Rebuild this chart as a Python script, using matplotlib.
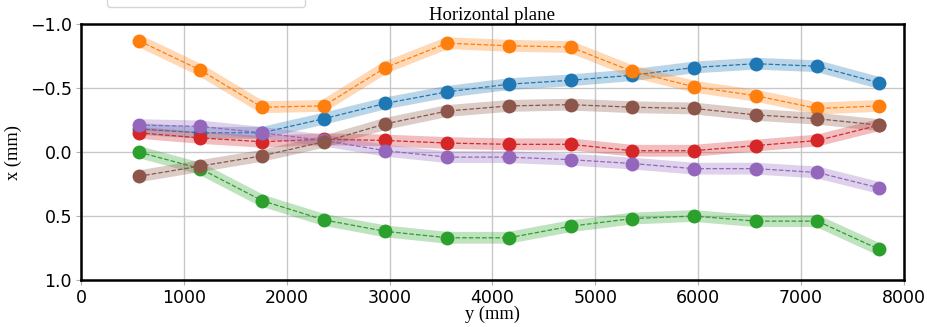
import numpy as np
import matplotlib
matplotlib.use("Agg")
import matplotlib.pyplot as plt

# positions along the beam (mm)
y_pos = [560, 1160, 1760, 2360, 2960, 3560, 4160, 4760, 5360, 5960, 6560, 7160, 7760]

# horizontal offsets (mm) per series
x_blue   = [-0.18, -0.15, -0.15, -0.26, -0.38, -0.47, -0.53, -0.56, -0.60, -0.66, -0.69, -0.67, -0.54]
x_orange = [-0.87, -0.64, -0.35, -0.36, -0.66, -0.85, -0.83, -0.82, -0.63, -0.51, -0.44, -0.34, -0.36]
x_green  = [0.00, 0.13, 0.38, 0.53, 0.62, 0.67, 0.67, 0.58, 0.52, 0.50, 0.54, 0.54, 0.76]
x_red    = [-0.15, -0.11, -0.08, -0.10, -0.09, -0.07, -0.06, -0.06, -0.01, -0.01, -0.05, -0.09, -0.21]
x_purple = [-0.21, -0.20, -0.15, -0.09, -0.01, 0.04, 0.04, 0.06, 0.09, 0.13, 0.13, 0.16, 0.28]
x_brown  = [0.19, 0.11, 0.03, -0.08, -0.22, -0.32, -0.36, -0.37, -0.35, -0.34, -0.29, -0.26, -0.21]

series = [x_blue, x_orange, x_green, x_red, x_purple, x_brown]
colors = ["tab:blue", "tab:orange", "tab:green", "tab:red", "tab:purple", "tab:brown"]
names = ["Run 1", "Run 2", "Run 3", "Run 4", "Run 5", "Run 6"]

SERIF = ["Liberation Serif", "DejaVu Serif"]

fig = plt.figure(figsize=(9.28, 3.27), dpi=100)
ax = fig.add_axes([0.0873, 0.1437, 0.8866, 0.7829])

for vals, c, name in zip(series, colors, names):
    ax.plot(y_pos, vals, color=c, lw=8.5, alpha=0.3, solid_capstyle="butt")
    ax.plot(y_pos, vals, color=c, lw=0.9, ls="--", marker="o", ms=9, label=name)

ax.set_xlim(0, 8000)
ax.set_ylim(1.0, -1.0)
ax.set_xticks(np.arange(0, 8001, 1000))
ax.set_yticks([-1.0, -0.5, 0.0, 0.5, 1.0])
ax.grid(True, color="#c8c8c8", lw=1.0)
ax.set_axisbelow(True)
ax.tick_params(labelsize=12.5, length=3.5, color="#b0b0b0", pad=3)
for s in ax.spines.values():
    s.set_linewidth(1.8)

ax.set_title("Horizontal plane", family=SERIF, fontsize=13.5, pad=3)
ax.set_xlabel("y (mm)", family=SERIF, fontsize=13.3, labelpad=-1)
ax.set_ylabel("x (mm)", family=SERIF, fontsize=13.3, labelpad=6)

# legend sits mostly above the canvas, only its lower frame shows
fig.legend(loc="lower left", bbox_to_anchor=(107 / 928, 1 - 7 / 327, 198 / 928, 0.2),
           mode="expand", ncol=3, borderaxespad=0, borderpad=1.4, fontsize=10)

fig.savefig("out.png", dpi=100)
